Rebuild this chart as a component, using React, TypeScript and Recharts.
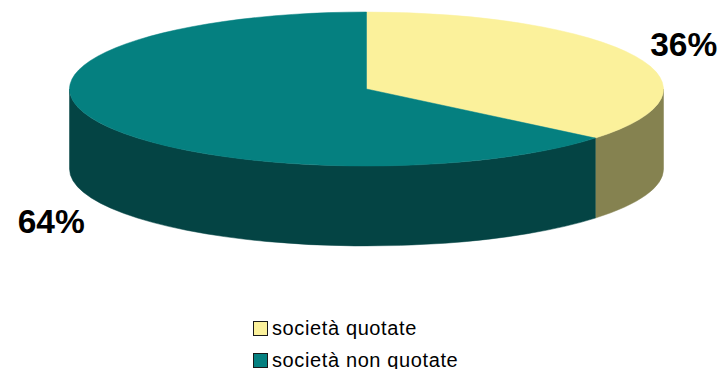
import { Legend, Pie, PieChart } from 'recharts';

const CATEGORIES = ['società quotate', 'società non quotate'];
const SHARES = [36, 64];
const TOP_COLORS = ['#FBF19B', '#058080'];
const WALL_COLORS = ['#858250', '#044444'];

const rows = CATEGORIES.map((name, i) => ({
  name,
  value: SHARES[i],
  fill: TOP_COLORS[i],
  wall: WALL_COLORS[i],
}));

const WIDTH = 720;
const HEIGHT = 369;
const CX = 366.5;
const CY = 89;
const RX = 297;
const RY = 77;
const DEPTH = 80;
const LABEL_OFFSETS = [
  { dx: 15, dy: 0, depth: 0, anchor: 'start' },
  { dx: 13, dy: 31, depth: DEPTH, anchor: 'end' },
];

const FONT = '"Liberation Sans", Arial, sans-serif';
const RAD = Math.PI / 180;

function point(cx: number, cy: number, rx: number, ry: number, angle: number) {
  return [cx + rx * Math.cos(angle * RAD), cy - ry * Math.sin(angle * RAD)];
}

// Recharts hands over a circular sector; flatten it to an ellipse and extrude the front edge.
function Slice3D(props: any) {
  const { cx, cy, outerRadius, startAngle, endAngle, fill, payload } = props;
  const rx = outerRadius;
  const ry = outerRadius * (RY / RX);
  const [sx, sy] = point(cx, cy, rx, ry, startAngle);
  const [ex, ey] = point(cx, cy, rx, ry, endAngle);
  const large = Math.abs(endAngle - startAngle) > 180 ? 1 : 0;
  const top = `M${cx},${cy} L${sx},${sy} A${rx},${ry} 0 ${large} 1 ${ex},${ey} Z`;

  // only the part of the rim in the lower half of the ellipse shows a wall
  const walls: string[] = [];
  for (const shift of [0, 360]) {
    const a = Math.min(startAngle + shift, 360);
    const b = Math.max(endAngle + shift, 180);
    if (a > b) {
      const [ax, ay] = point(cx, cy, rx, ry, a);
      const [bx, by] = point(cx, cy, rx, ry, b);
      walls.push(
        `M${ax},${ay} A${rx},${ry} 0 0 1 ${bx},${by} L${bx},${by + DEPTH} A${rx},${ry} 0 0 0 ${ax},${ay + DEPTH} Z`,
      );
    }
  }

  return (
    <g>
      {walls.map((d) => (
        <path key={d} d={d} fill={payload.wall} stroke={payload.wall} strokeWidth={0.5} />
      ))}
      <path d={top} fill={fill} stroke={fill} strokeWidth={0.5} />
    </g>
  );
}

function renderLabel(props: any) {
  const { cx, cy, outerRadius, midAngle, index, value } = props;
  const offset = LABEL_OFFSETS[index];
  const [x, y] = point(cx, cy, outerRadius, outerRadius * (RY / RX), midAngle);
  const isRight = offset.anchor === 'start';
  return (
    <text
      x={x + (isRight ? offset.dx : -offset.dx)}
      y={y + offset.dy + offset.depth}
      textAnchor={offset.anchor}
      fontFamily={FONT}
      fontWeight={700}
      fontSize={33.5}
      fill="#000000"
    >
      {value}%
    </text>
  );
}

function LegendRows({ payload }: any) {
  return (
    <div style={{ fontFamily: FONT, fontSize: 20, color: '#000000' }}>
      {(payload ?? []).map((entry: any) => (
        <div
          key={entry.value}
          style={{ display: 'flex', alignItems: 'center', height: 32, whiteSpace: 'nowrap' }}
        >
          <span
            style={{
              boxSizing: 'border-box',
              width: 15,
              height: 15,
              marginRight: 4,
              background: entry.color,
              border: '1.5px solid #1A1A1A',
            }}
          />
          <span style={{ letterSpacing: 0.62 }}>{entry.value}</span>
        </div>
      ))}
    </div>
  );
}

export default function App() {
  return (
    <div style={{ position: 'absolute', left: 0, top: 0, width: WIDTH, height: HEIGHT, background: '#FFFFFF' }}>
      <PieChart width={WIDTH} height={HEIGHT} margin={{ top: 0, right: 0, bottom: 0, left: 0 }}>
        <Pie
          data={rows}
          dataKey="value"
          nameKey="name"
          cx={CX}
          cy={CY}
          innerRadius={0}
          outerRadius={RX}
          startAngle={90}
          endAngle={-270}
          stroke="none"
          shape={Slice3D}
          inactiveShape={Slice3D}
          label={renderLabel}
          labelLine={false}
          isAnimationActive={false}
        />
        <Legend
          content={<LegendRows />}
          layout="vertical"
          itemSorter={null}
          wrapperStyle={{ position: 'absolute', left: 253, top: 312, width: 'auto', bottom: 'auto' }}
        />
      </PieChart>
    </div>
  );
}
